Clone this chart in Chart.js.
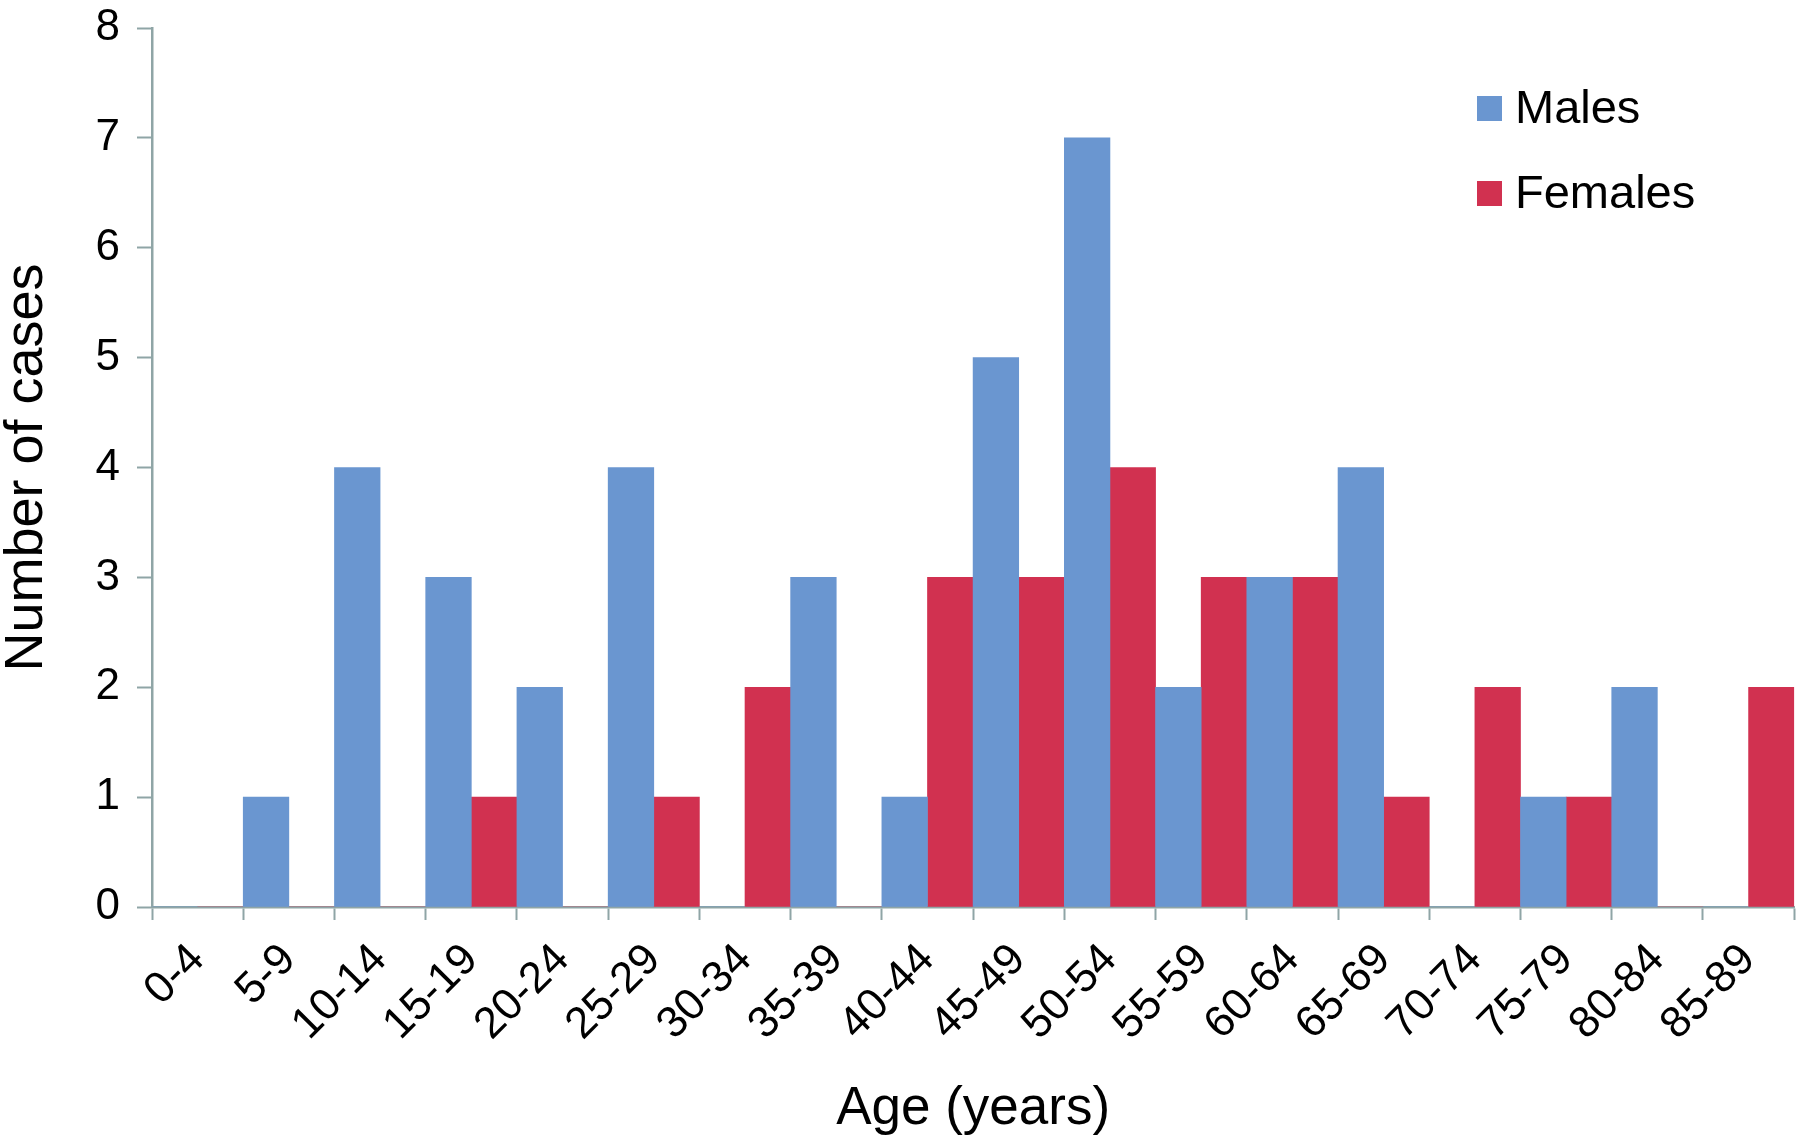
<!DOCTYPE html>
<html>
<head>
<meta charset="utf-8">
<script src="https://cdn.jsdelivr.net/npm/chart.js@4"></script>
<style>
  html, body { margin: 0; padding: 0; background: #fff; }
  #wrap { width: 1800px; height: 1143px; }
</style>
</head>
<body>
<div id="wrap"><canvas id="myChart" width="1800" height="1143"></canvas></div>
<script>
const ageGroups = ["0-4", "5-9", "10-14", "15-19", "20-24", "25-29", "30-34", "35-39", "40-44",
  "45-49", "50-54", "55-59", "60-64", "65-69", "70-74", "75-79", "80-84", "85-89"];
const males = [0, 1, 4, 3, 2, 4, 0, 3, 1, 5, 7, 2, 3, 4, 0, 1, 2, 0];
const females = [0, 0, 0, 1, 0, 1, 2, 0, 3, 3, 4, 3, 3, 1, 2, 1, 0, 2];
const yMin = 0;
const yMax = 8;
const yStep = 1;

const FONT = "'Liberation Sans', Arial, sans-serif";
const axisColor = "#8fa5a6";

// legend sits inside the plot, top right
const insideLegend = {
  id: "insideLegend",
  afterDraw(chart) {
    const ctx = chart.ctx;
    ctx.save();
    ctx.font = "47px " + FONT;
    ctx.textBaseline = "alphabetic";
    ctx.textAlign = "left";
    chart.data.datasets.forEach((ds, i) => {
      const top = 96 + i * 85;
      ctx.fillStyle = ds.backgroundColor;
      ctx.fillRect(1477, top, 25, 25);
      ctx.fillStyle = "#000";
      ctx.fillText(ds.label, 1515, top + 27);
    });
    ctx.restore();
  },
};

const ctx = document.getElementById("myChart").getContext("2d");
const myChart = new Chart(ctx, {
  type: "bar",
  data: {
    labels: ageGroups,
    datasets: [
      {
        label: "Males",
        data: males,
        backgroundColor: "#6a96d0",
        borderWidth: 0,
        barPercentage: 1,
        categoryPercentage: 1,
      },
      {
        label: "Females",
        data: females,
        backgroundColor: "#d13150",
        borderWidth: 0,
        barPercentage: 1,
        categoryPercentage: 1,
      },
    ],
  },
  options: {
    responsive: false,
    animation: false,
    layout: { padding: { top: 0, right: 3, left: 0, bottom: 0 } },
    plugins: {
      legend: { display: false },
      tooltip: { enabled: false },
    },
    scales: {
      x: {
        grid: {
          offset: true,
          drawOnChartArea: false,
          drawTicks: true,
          tickLength: 13,
          tickColor: axisColor,
          tickWidth: 2,
        },
        border: { color: axisColor, width: 2.5 },
        ticks: {
          color: "#000",
          font: { family: FONT, size: 44 },
          minRotation: 45,
          maxRotation: 45,
          autoSkip: false,
          padding: 14,
        },
        title: {
          display: true,
          text: "Age (years)",
          color: "#000",
          font: { family: FONT, size: 53, lineHeight: 1 },
          padding: { top: 0, bottom: 7 },
        },
        afterFit(scale) {
          scale.height = 236;
        },
      },
      y: {
        min: yMin,
        max: yMax,
        grid: {
          drawOnChartArea: false,
          drawTicks: true,
          tickLength: 15,
          tickColor: axisColor,
          tickWidth: 2,
        },
        border: { color: axisColor, width: 2.5 },
        ticks: {
          stepSize: yStep,
          color: "#000",
          font: { family: FONT, size: 44 },
          padding: 17,
        },
        title: {
          display: true,
          text: "Number of cases",
          color: "#000",
          font: { family: FONT, size: 54, lineHeight: 1 },
          padding: { top: 0, bottom: 0 },
        },
        afterFit(scale) {
          scale.width = 152;
          scale.paddingTop = 28;
          scale.paddingBottom = 0;
        },
      },
    },
  },
  plugins: [insideLegend],
});
</script>
</body>
</html>
